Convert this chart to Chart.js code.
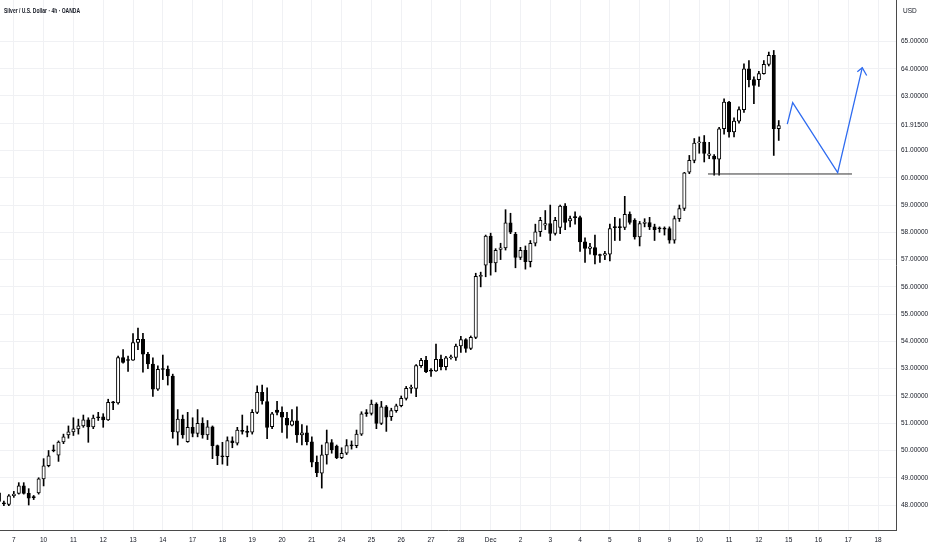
<!DOCTYPE html>
<html>
<head>
<meta charset="utf-8">
<script src="https://cdn.jsdelivr.net/npm/chart.js@4.4.1/dist/chart.umd.min.js"></script>
<style>
  html, body { margin: 0; padding: 0; background: #fff; }
  #wrap { width: 932px; height: 550px; position: relative; }
</style>
</head>
<body>
<div id="wrap"><canvas id="candles"></canvas></div>
<script>
// 4h candles, Nov 6 (last 3 bars) .. Dec 12, one index per bar
var opens = [48.45,48.08,48.02,48.34,48.43,48.70,48.43,48.30,48.44,48.96,
  49.44,50.02,49.83,50.31,50.57,50.68,50.79,50.90,51.12,50.86,
  51.23,51.23,51.12,51.78,51.74,53.41,53.33,53.31,53.96,54.08,
  53.53,53.17,52.25,53.00,52.98,52.73,50.67,51.15,50.32,50.85,
  50.63,51.00,50.57,50.87,50.18,49.80,49.77,50.35,50.27,50.73,
  50.70,50.67,51.40,52.13,51.79,50.87,51.48,51.40,51.18,50.93,
  51.09,50.57,50.65,50.32,49.57,49.17,49.84,50.29,50.16,49.74,
  49.90,50.20,50.18,50.60,51.38,51.36,51.70,50.99,51.60,51.24,
  51.46,51.64,51.91,52.28,52.28,53.11,53.31,52.94,52.92,53.34,
  53.07,53.40,53.41,53.83,54.07,53.74,54.15,56.38,56.80,57.86,
  56.88,57.37,57.43,58.35,57.93,57.08,57.34,56.92,57.60,58.02,
  58.26,58.32,57.96,58.18,58.96,58.42,58.58,58.54,57.65,57.41,
  57.44,57.18,57.16,57.20,58.20,58.19,58.18,58.66,58.44,57.83,
  58.33,58.36,58.20,58.16,58.15,58.14,57.71,58.50,58.88,60.21,
  60.64,61.28,61.31,60.82,60.80,60.68,61.80,62.78,61.68,62.08,
  62.50,64.00,63.60,63.60,63.82,64.16,64.49,61.80];
var highs = [48.55,48.14,48.38,48.50,48.82,48.82,48.60,48.35,49.00,49.70,
  50.00,50.20,50.35,50.60,50.90,51.20,51.15,51.30,51.20,51.30,
  51.40,51.35,51.88,51.80,53.46,53.70,53.46,54.29,54.49,54.30,
  53.60,53.40,53.10,53.50,53.10,52.80,51.50,51.30,51.40,51.20,
  51.50,51.20,51.10,50.90,50.20,50.30,50.50,50.50,50.85,51.30,
  50.90,51.50,52.37,52.40,52.30,51.40,51.80,51.60,51.40,51.50,
  51.60,50.95,50.90,50.50,49.80,50.20,50.75,50.40,50.20,50.10,
  50.40,50.35,50.75,51.42,51.50,51.85,51.75,51.80,51.65,51.55,
  51.70,52.00,52.35,52.40,53.15,53.38,53.45,53.00,53.90,53.50,
  53.45,53.50,53.90,54.19,54.10,54.20,56.50,56.54,57.90,57.97,
  57.40,57.60,58.83,58.70,58.00,57.45,57.50,57.70,58.30,58.55,
  58.80,59.00,58.55,59.00,59.05,58.60,58.75,58.60,57.80,57.60,
  57.90,57.20,57.30,58.30,58.55,58.50,59.32,58.75,58.50,58.40,
  58.50,58.55,58.30,58.20,58.20,58.20,58.60,59.00,60.20,60.82,
  61.44,61.50,61.55,61.30,60.85,61.85,62.90,62.80,62.20,62.60,
  64.18,64.30,63.70,63.90,64.30,64.61,64.67,62.10];
var lows = [48.05,47.98,47.98,48.28,48.40,48.40,48.00,48.20,48.40,48.70,
  49.40,49.95,49.60,50.25,50.45,50.55,50.60,50.85,50.30,50.80,
  51.10,50.85,51.10,51.50,51.70,53.20,52.90,53.30,53.70,52.87,
  53.00,51.98,52.20,52.60,52.40,50.45,50.20,50.45,50.30,50.50,
  50.50,50.45,50.40,49.70,49.48,49.50,49.45,50.10,50.20,50.60,
  50.50,50.60,51.35,51.70,50.43,50.80,51.30,50.66,50.45,50.90,
  50.30,50.20,50.20,49.40,49.04,48.62,49.50,49.90,49.70,49.70,
  49.85,50.05,50.10,50.55,51.25,51.30,50.80,50.95,50.70,51.10,
  51.40,51.60,51.85,52.10,51.97,53.05,52.85,52.72,52.90,52.95,
  52.95,53.35,53.30,53.60,53.60,53.70,54.10,56.00,56.37,56.43,
  56.55,57.00,57.35,57.95,56.70,57.00,56.65,56.73,57.50,57.85,
  58.10,57.70,57.90,57.95,58.10,58.20,58.30,57.30,56.90,57.20,
  56.84,56.90,57.00,56.95,57.70,57.70,58.10,58.30,57.75,57.50,
  58.20,58.10,57.70,58.00,57.90,57.60,57.60,58.40,58.80,60.15,
  60.55,60.90,60.58,60.70,60.10,60.10,61.60,61.49,61.50,62.00,
  62.40,63.33,62.72,63.35,63.80,64.10,60.82,61.37];
var closes = [48.13,48.04,48.34,48.40,48.70,48.43,48.25,48.27,48.96,49.44,
  49.80,49.99,50.31,50.50,50.68,50.79,50.90,51.12,50.86,51.19,
  51.20,51.12,51.77,51.74,53.41,53.23,53.30,53.96,54.08,53.53,
  53.17,52.25,52.98,52.97,52.73,50.69,51.15,50.57,50.85,50.63,
  51.00,50.57,50.87,50.18,49.81,49.77,50.36,50.29,50.75,50.70,
  50.66,51.40,52.13,51.82,50.85,51.34,51.40,51.22,50.93,51.09,
  50.57,50.65,50.32,49.57,49.19,49.84,50.29,50.02,49.74,49.90,
  50.18,50.17,50.60,51.34,51.35,51.70,50.99,51.60,51.22,51.46,
  51.64,51.91,52.28,52.32,53.11,53.31,52.89,52.91,53.34,53.07,
  53.40,53.42,53.83,54.07,53.74,54.15,56.39,56.42,57.86,56.88,
  57.34,57.43,58.35,58.01,57.08,57.34,56.92,57.60,58.02,58.44,
  58.32,57.96,58.44,58.96,58.36,58.50,58.54,57.65,57.41,57.47,
  57.16,57.15,57.22,58.14,58.17,58.17,58.66,58.36,57.83,58.32,
  58.37,58.20,58.10,58.13,58.12,57.71,58.50,58.87,60.18,60.64,
  61.27,61.32,60.89,60.88,60.68,61.80,62.78,61.68,62.08,62.50,
  64.00,63.60,63.39,63.82,64.16,64.49,61.80,61.915];

// day labels on the time axis, placed at the first bar of each day
var dayLabels = ['7','10','11','12','13','14','17','18','19','20','21','24','25','26','27','28',
  'Dec','2','3','4','5','8','9','10','11','12','15','16','17','18'];
var dayStart = dayLabels.map(function (d, i) { return 3 + i * 6; });

// price axis labels
var priceTicks = [48,49,50,51,52,53,54,55,56,57,58,59,60,61,61.915,62,63,64,65];
var lastPrice = 61.915;

// drawings: projected path, arrow head and the support line
var pathX = [158.72, 159.81, 168.87, 173.82];
var pathY = [61.97, 62.76, 60.19, 64.04];
var arrowX = [172.82, 173.82, 174.71];
var arrowY = [63.89, 64.04, 63.75];
var supportX = [142.76, 171.75];
var supportY = [60.14, 60.14];

var tickFont = { family: '"Liberation Sans", Arial, sans-serif', size: 6.5 };
var gridColor = '#f0f1f4';

function zip(xs, ys) {
  return xs.map(function (x, i) { return { x: x, y: ys[i] }; });
}

var bodies = opens.map(function (o, i) { return { x: i, y: [o, closes[i]] }; });
var wicks = lows.map(function (l, i) { return { x: i, y: [l, highs[i]] }; });
var bodyColors = opens.map(function (o, i) { return closes[i] >= o ? '#ffffff' : '#000000'; });

var header = {
  id: 'header',
  afterDraw: function (chart) {
    var c = chart.ctx;
    c.save();
    c.fillStyle = '#131722';
    c.textBaseline = 'middle';
    c.font = 'bold 7.5px "Liberation Sans", Arial, sans-serif';
    c.fillText('Silver / U.S. Dollar · 4h · OANDA', 4, 11, 76);
    c.font = '6.5px "Liberation Sans", Arial, sans-serif';
    c.fillText('USD', 903, 11);
    c.restore();
  }
};

var ctx = document.getElementById('candles').getContext('2d');
var chart = new Chart(ctx, {
  type: 'bar',
  data: {
    datasets: [
      {
        type: 'line',
        data: zip(pathX, pathY),
        borderColor: '#2f6cf0',
        borderWidth: 1.3,
        pointRadius: 0,
        tension: 0,
        order: 0
      },
      {
        type: 'line',
        data: zip(arrowX, arrowY),
        borderColor: '#2f6cf0',
        borderWidth: 1.3,
        pointRadius: 0,
        tension: 0,
        order: 0
      },
      {
        type: 'line',
        data: zip(supportX, supportY),
        borderColor: '#333333',
        borderWidth: 1,
        pointRadius: 0,
        order: 0
      },
      {
        data: bodies,
        backgroundColor: bodyColors,
        borderColor: '#000000',
        borderWidth: 1,
        borderSkipped: false,
        barThickness: 3.4,
        minBarLength: 1,
        grouped: false,
        order: 1
      },
      {
        data: wicks,
        backgroundColor: '#000000',
        borderWidth: 0,
        barThickness: 1,
        grouped: false,
        order: 2
      }
    ]
  },
  options: {
    responsive: true,
    maintainAspectRatio: false,
    animation: false,
    layout: { padding: 0 },
    plugins: {
      legend: { display: false },
      tooltip: { enabled: false },
      title: { display: false }
    },
    scales: {
      x: {
        type: 'linear',
        min: 0.22,
        max: 180.61,
        offset: false,
        afterBuildTicks: function (scale) {
          scale.ticks = dayStart.map(function (v) { return { value: v }; });
        },
        afterFit: function (scale) {
          scale.height = 20;
          scale.paddingLeft = 0;
          scale.paddingRight = 0;
        },
        ticks: {
          autoSkip: false,
          maxRotation: 0,
          padding: 6,
          font: tickFont,
          color: '#131722',
          callback: function (value, index) { return dayLabels[index]; }
        },
        grid: { color: gridColor, drawTicks: false, offset: false },
        border: { color: '#4a4a4a' }
      },
      y: {
        position: 'right',
        min: 47.084,
        max: 66.52,
        beginAtZero: false,
        afterBuildTicks: function (scale) {
          scale.ticks = priceTicks.map(function (v) { return { value: v }; });
        },
        afterFit: function (scale) {
          scale.width = 36;
          scale.paddingTop = 0;
          scale.paddingBottom = 0;
        },
        ticks: {
          autoSkip: false,
          padding: 5,
          font: tickFont,
          color: '#131722',
          callback: function (value) { return value === 62 ? '' : value.toFixed(5); }
        },
        grid: {
          drawTicks: false,
          color: function (c) {
            return c.tick && c.tick.value === lastPrice ? 'rgba(0,0,0,0)' : gridColor;
          }
        },
        border: { color: '#4a4a4a' }
      }
    }
  },
  plugins: [header]
});
</script>
</body>
</html>
